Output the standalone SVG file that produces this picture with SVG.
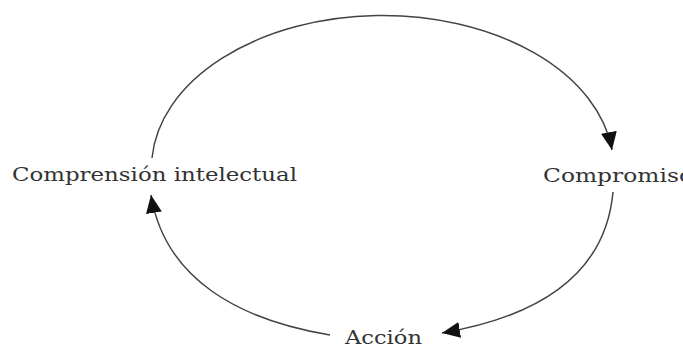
<svg xmlns="http://www.w3.org/2000/svg" width="683" height="360" viewBox="0 0 683 360">
<style>
.lbl{font-family:"DejaVu Serif","Liberation Serif",serif;font-size:19px;fill:#333}
.arc{fill:none;stroke:#444;stroke-width:1.5}
</style>
<defs>
<marker id="ah" markerUnits="userSpaceOnUse" markerWidth="20" markerHeight="16" refX="18" refY="8" orient="auto">
<path d="M0,0 L18,8 L0,16 Z" fill="#111"/>
</marker>
</defs>
<rect width="683" height="360" fill="#fff"/>
<g id="connectors">
<path class="arc" d="M152,158 A231,152 0 0 1 612,150" marker-end="url(#ah)"/>
<path class="arc" d="M613,192 C605,280 530,318 442,333" marker-end="url(#ah)"/>
<path class="arc" d="M330,335 C240,320 165,280 151,195" marker-end="url(#ah)"/>
</g>
<g id="node-comprension"><text class="lbl" x="12" y="181" textLength="285" lengthAdjust="spacingAndGlyphs">Comprensión intelectual</text></g>
<g id="node-compromiso"><text class="lbl" x="543" y="182" textLength="150" lengthAdjust="spacingAndGlyphs">Compromiso</text></g>
<g id="node-accion"><text class="lbl" x="345" y="344" textLength="77" lengthAdjust="spacingAndGlyphs">Acción</text></g>
</svg>
